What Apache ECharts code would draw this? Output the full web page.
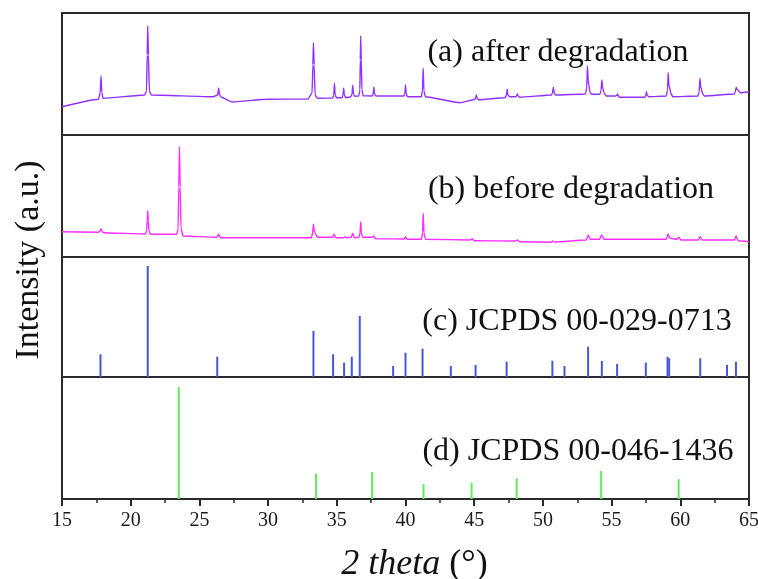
<!DOCTYPE html>
<html>
<head>
<meta charset="utf-8">
<script src="https://cdn.jsdelivr.net/npm/echarts@6/dist/echarts.min.js"></script>
<style>
  html, body { margin: 0; padding: 0; background: #fff; }
  #chart { width: 758px; height: 579px; }
</style>
</head>
<body>
<div id="chart"></div>
<script>
// 2θ range and tick step shared by every panel
const thetaMin = 15;
const thetaMax = 65;
const thetaStep = 5;

// (a) measured pattern after degradation: [2θ, intensity]
const afterDegradation = [
  [15.0, 283], [17.65, 357], [17.78, 420], [17.84, 590], [17.9, 420], [17.98, 367],
  [21.02, 400], [21.15, 440], [21.2, 800], [21.24, 1090], [21.29, 800], [21.36, 440], [21.5, 400],
  [26.0, 383], [26.33, 400], [26.4, 467], [26.47, 400], [26.6, 378], [27.37, 330],
  [29.9, 357], [32.9, 360], [33.2, 420], [33.26, 700], [33.3, 923], [33.35, 700], [33.42, 400], [33.6, 367],
  [34.7, 370], [34.78, 400], [34.83, 517], [34.88, 400], [34.98, 373],
  [35.38, 373], [35.45, 400], [35.5, 467], [35.55, 400], [35.65, 373],
  [36.03, 383], [36.11, 410], [36.16, 497], [36.21, 410], [36.3, 387],
  [36.6, 390], [36.68, 450], [36.71, 750], [36.74, 990], [36.78, 750], [36.83, 450], [36.92, 393],
  [37.58, 390], [37.65, 410], [37.7, 477], [37.75, 410], [37.85, 390],
  [39.88, 390], [39.95, 410], [40.0, 500], [40.05, 410], [40.15, 383],
  [41.15, 383], [41.23, 440], [41.29, 667], [41.34, 440], [41.45, 383],
  [43.96, 323], [45.02, 355], [45.1, 370], [45.15, 400], [45.2, 370], [45.3, 353],
  [47.25, 373], [47.35, 400], [47.4, 457], [47.45, 400], [47.58, 383],
  [48.0, 383], [48.08, 390], [48.14, 410], [48.2, 390], [48.3, 377],
  [50.62, 400], [50.7, 420], [50.76, 477], [50.82, 420], [50.92, 400],
  [53.1, 410], [53.19, 470], [53.24, 690], [53.3, 540], [53.35, 500], [53.42, 430], [53.55, 407],
  [54.15, 407], [54.23, 440], [54.29, 550], [54.34, 480], [54.38, 457], [54.45, 420], [54.6, 390],
  [55.3, 390], [55.38, 395], [55.43, 410], [55.48, 395], [55.58, 377],
  [57.4, 377], [57.49, 395], [57.54, 433], [57.59, 395], [57.7, 383],
  [58.98, 390], [59.07, 450], [59.12, 623], [59.17, 500], [59.22, 477], [59.3, 420], [59.45, 383],
  [61.28, 390], [61.37, 430], [61.43, 567], [61.48, 480], [61.52, 467], [61.6, 420], [61.75, 390],
  [63.93, 410], [64.0, 430], [64.07, 477], [64.13, 455], [64.2, 450], [64.35, 423], [65.0, 433]
];

// (b) measured pattern before degradation: [2θ, intensity]
const beforeDegradation = [
  [15.0, 253], [17.65, 247], [17.78, 260], [17.84, 283], [17.9, 260], [18.0, 243],
  [21.05, 230], [21.16, 260], [21.2, 360], [21.24, 463], [21.28, 360], [21.33, 260], [21.45, 227],
  [23.35, 227], [23.45, 280], [23.5, 700], [23.55, 1103], [23.6, 700], [23.66, 290], [23.8, 210],
  [26.25, 197], [26.35, 210], [26.4, 230], [26.45, 210], [26.55, 193],
  [33.15, 193], [33.24, 240], [33.3, 327], [33.36, 260], [33.42, 240], [33.6, 197],
  [34.7, 197], [34.8, 227], [34.92, 193],
  [35.5, 193], [35.6, 203], [35.72, 193],
  [36.05, 197], [36.16, 237], [36.27, 193],
  [36.62, 197], [36.69, 240], [36.74, 353], [36.79, 240], [36.88, 197],
  [37.6, 197], [37.7, 210], [37.82, 183],
  [39.9, 180], [40.0, 203], [40.12, 177],
  [41.17, 177], [41.24, 240], [41.29, 437], [41.34, 240], [41.45, 177],
  [44.7, 170], [44.86, 183], [45.0, 163],
  [48.0, 160], [48.14, 170], [48.3, 153],
  [50.6, 147], [50.7, 160], [50.85, 150],
  [53.15, 170], [53.3, 220], [53.45, 177],
  [54.12, 177], [54.26, 220], [54.45, 177],
  [58.98, 177], [59.12, 230], [59.25, 187],
  [59.75, 177], [59.9, 197], [60.05, 170],
  [61.3, 170], [61.45, 203], [61.6, 170],
  [63.93, 170], [64.07, 210], [64.2, 163], [65.0, 153]
];

// (c) reference lines, JCPDS 00-029-0713: [2θ, relative intensity]
const refCard0713 = [
  [17.8, 227], [21.24, 1110], [26.3, 203], [33.3, 460], [34.73, 227], [35.53, 143],
  [36.09, 203], [36.67, 610], [39.1, 110], [40.0, 243], [41.24, 283], [43.3, 110],
  [45.1, 120], [47.36, 153], [50.69, 163], [51.57, 110], [53.29, 303], [54.29, 160],
  [55.4, 130], [57.49, 143], [59.07, 203], [59.19, 187], [61.45, 187], [63.4, 120], [64.05, 153]
];

// (d) reference lines, JCPDS 00-046-1436: [2θ, relative intensity]
const refCard1436 = [
  [23.5, 1117], [33.49, 253], [37.57, 270], [41.31, 150],
  [44.81, 163], [48.09, 207], [54.24, 280], [59.88, 197]
];

// Panel captions
const panelLabels = [
  '(a) after degradation',
  '(b) before degradation',
  '(c) JCPDS 00-029-0713',
  '(d) JCPDS 00-046-1436'
];
const xAxisTitle = '{i|2 theta} (°)';
const yAxisTitle = 'Intensity (a.u.)';

const serif = '"Liberation Serif", "Times New Roman", serif';

// Panel geometry (px): top, height, y-axis max
const panels = [
  { top: 13, height: 122, yMax: 1220 },
  { top: 135, height: 122, yMax: 1220 },
  { top: 257, height: 120, yMax: 1200 },
  { top: 377, height: 122, yMax: 1220 }
];

const chart = echarts.init(document.getElementById('chart'), null, { renderer: 'canvas' });

const grids = panels.map(p => ({
  left: 62, right: 9, top: p.top, height: p.height,
  outerBoundsMode: 'none', containLabel: false,
  show: true, borderColor: '#2b2b2b', borderWidth: 2, backgroundColor: 'transparent'
}));

const xAxes = panels.map((p, i) => {
  const isBottom = i === panels.length - 1;
  return {
    type: 'value', gridIndex: i, min: thetaMin, max: thetaMax, interval: thetaStep,
    splitLine: { show: false },
    axisLine: { show: isBottom, lineStyle: { color: '#2b2b2b', width: 2 } },
    axisTick: { show: isBottom, length: 7, lineStyle: { color: '#2b2b2b', width: 2 } },
    minorTick: { show: isBottom, splitNumber: 2, length: 4, lineStyle: { color: '#2b2b2b', width: 1.5 } },
    axisLabel: {
      show: isBottom, margin: 12, color: '#1a1a1a',
      fontFamily: serif, fontSize: 20
    },
    name: isBottom ? xAxisTitle : '',
    nameLocation: 'middle', nameGap: 48,
    nameTextStyle: {
      fontFamily: serif, fontSize: 36, color: '#111', padding: [0, 0, 0, 18],
      rich: { i: { fontFamily: serif, fontSize: 36, fontStyle: 'italic', color: '#111' } }
    }
  };
});

const yAxes = panels.map((p, i) => ({
  type: 'value', gridIndex: i, min: 0, max: p.yMax,
  show: false, splitLine: { show: false }
}));

const stemSeries = (data, idx, color) => ({
  type: 'bar', xAxisIndex: idx, yAxisIndex: idx, data: data,
  barWidth: 2, itemStyle: { color: color }, silent: true, animation: false
});

const lineSeries = (data, idx, color) => ({
  type: 'line', xAxisIndex: idx, yAxisIndex: idx, data: data,
  showSymbol: false, symbol: 'none', smooth: 0.15, smoothMonotone: 'x',
  lineStyle: { color: color, width: 1.4 }, silent: true, animation: false
});

const labelPos = [
  { x: 558, y: 53 },
  { x: 571, y: 190 },
  { x: 577, y: 322 },
  { x: 578, y: 452 }
];

chart.setOption({
  backgroundColor: '#ffffff',
  animation: false,
  grid: grids,
  xAxis: xAxes,
  yAxis: yAxes,
  series: [
    lineSeries(afterDegradation, 0, '#9130ff'),
    lineSeries(beforeDegradation, 1, '#ff2cff'),
    stemSeries(refCard0713, 2, '#4657d9'),
    stemSeries(refCard1436, 3, '#5cee5c')
  ],
  graphic: [
    ...panelLabels.map((t, i) => ({
      type: 'text', x: labelPos[i].x, y: labelPos[i].y, z: 10,
      style: {
        text: t, fontFamily: serif, fontSize: 32, fill: '#111',
        textAlign: 'center', textVerticalAlign: 'middle'
      }
    })),
    {
      type: 'text', x: 29, y: 260, rotation: Math.PI / 2, z: 10,
      style: {
        text: yAxisTitle, fontFamily: serif, fontSize: 34, fill: '#111',
        textAlign: 'center', textVerticalAlign: 'middle'
      }
    }
  ]
});
</script>
</body>
</html>
